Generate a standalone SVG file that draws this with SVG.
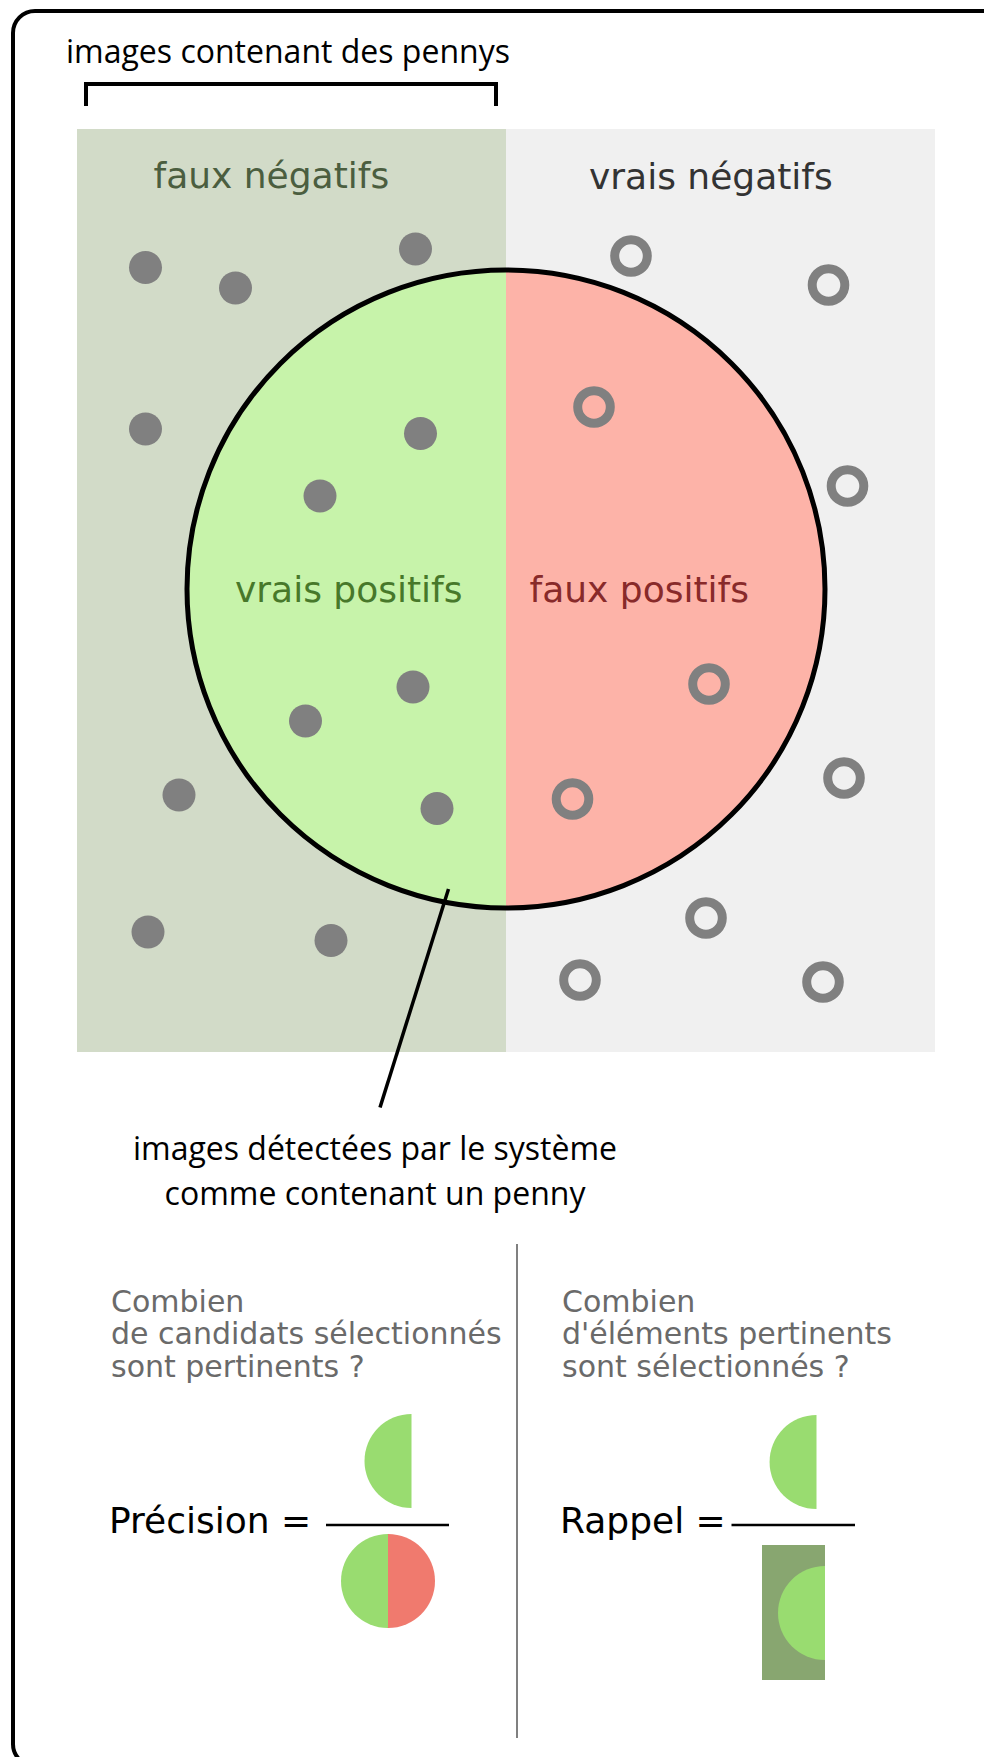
<svg xmlns="http://www.w3.org/2000/svg" width="984" height="1757" viewBox="0 0 984 1757">
  <style>
    .dv { font-family: "DejaVu Sans", Verdana, sans-serif; }
    .os { font-family: "Open Sans", "Liberation Sans", sans-serif; font-size: 32px; fill: #000; }
    .lbl { font-size: 36px; }
    .q { font-size: 30px; fill: #6a6a6a; }
    .eq { font-size: 36px; fill: #000; }
    .dot { fill: #808080; }
    .ring { fill: none; stroke: #808080; stroke-width: 9; }
    .blk { stroke: #000; fill: none; }
  </style>
  <defs>
    <clipPath id="leftHalf"><rect x="0" y="0" width="506" height="1757"/></clipPath>
    <clipPath id="rightHalf"><rect x="506" y="0" width="478" height="1757"/></clipPath>
  </defs>

  <rect x="0" y="0" width="984" height="1757" fill="#fff"/>
  <g id="frame">
    <rect x="13" y="11" width="1000" height="1755" rx="22" ry="22" fill="#fff" stroke="#000" stroke-width="4"/>
  </g>

  <g id="label-pennys">
    <text class="os" x="66" y="63">images contenant des pennys</text>
    <path class="blk" d="M86,106 V84 H496 V106" stroke-width="4"/>
  </g>

  <g id="faux-negatifs">
    <rect x="77" y="129" width="429" height="923" fill="#d2dbc8"/>
    <text class="dv lbl" x="153.5" y="188" fill="#4b5e3f">faux négatifs</text>
  </g>
  <g id="vrais-negatifs">
    <rect x="506" y="129" width="429" height="923" fill="#f0f0f0"/>
    <text class="dv lbl" x="589" y="189" fill="#333333">vrais négatifs</text>
  </g>

  <g id="selection-circle">
    <circle cx="506" cy="589" r="319" fill="#c7f3aa" clip-path="url(#leftHalf)"/>
    <circle cx="506" cy="589" r="319" fill="#fdb3a8" clip-path="url(#rightHalf)"/>
    <circle cx="506" cy="589" r="319" class="blk" stroke-width="5"/>
    <text class="dv lbl" x="235" y="602" fill="#47782a">vrais positifs</text>
    <text class="dv lbl" x="529.5" y="602" fill="#882a2a">faux positifs</text>
  </g>

  <g id="relevant-items">
    <circle class="dot" cx="145.5" cy="267.5" r="16.5"/>
    <circle class="dot" cx="235.5" cy="288" r="16.5"/>
    <circle class="dot" cx="415.5" cy="249" r="16.5"/>
    <circle class="dot" cx="145.5" cy="429" r="16.5"/>
    <circle class="dot" cx="179" cy="795" r="16.5"/>
    <circle class="dot" cx="148" cy="932" r="16.5"/>
    <circle class="dot" cx="331" cy="940.5" r="16.5"/>
    <circle class="dot" cx="420.5" cy="433.5" r="16.5"/>
    <circle class="dot" cx="320" cy="496" r="16.5"/>
    <circle class="dot" cx="413" cy="687" r="16.5"/>
    <circle class="dot" cx="305.5" cy="721" r="16.5"/>
    <circle class="dot" cx="437" cy="808.5" r="16.5"/>
  </g>

  <g id="irrelevant-items">
    <circle class="ring" cx="631" cy="256" r="16.3"/>
    <circle class="ring" cx="828.5" cy="285" r="16.3"/>
    <circle class="ring" cx="847.5" cy="486" r="16.3"/>
    <circle class="ring" cx="844" cy="778" r="16.3"/>
    <circle class="ring" cx="706" cy="918" r="16.3"/>
    <circle class="ring" cx="580" cy="980" r="16.3"/>
    <circle class="ring" cx="823" cy="982" r="16.3"/>
    <circle class="ring" cx="594" cy="407" r="16.3"/>
    <circle class="ring" cx="709" cy="684" r="16.3"/>
    <circle class="ring" cx="572.5" cy="799" r="16.3"/>
  </g>

  <g id="connectors">
    <line x1="448.5" y1="889" x2="380" y2="1107.5" stroke="#000" stroke-width="3.5"/>
  </g>

  <g id="label-detected">
    <text class="os" x="375" y="1160" text-anchor="middle">images détectées par le système</text>
    <text class="os" x="375" y="1205" text-anchor="middle">comme contenant un penny</text>
  </g>

  <g id="divider">
    <line x1="517" y1="1244" x2="517" y2="1738" stroke="#808080" stroke-width="2"/>
  </g>

  <g id="precision">
    <text class="dv q" x="111" y="1311.5">Combien</text>
    <text class="dv q" x="111" y="1344">de candidats sélectionnés</text>
    <text class="dv q" x="111" y="1377">sont pertinents ?</text>
    <text class="dv eq" x="109" y="1533">Précision =</text>
    <line x1="326" y1="1525" x2="449" y2="1525" stroke="#000" stroke-width="2.5"/>
    <path d="M411.5,1414 A47,47 0 0 0 411.5,1508 Z" fill="#99dc70"/>
    <path d="M388,1534 A47,47 0 0 0 388,1628 Z" fill="#99dc70"/>
    <path d="M388,1534 A47,47 0 0 1 388,1628 Z" fill="#f07a6e"/>
  </g>

  <g id="rappel">
    <text class="dv q" x="562" y="1311.5">Combien</text>
    <text class="dv q" x="562" y="1344">d'éléments pertinents</text>
    <text class="dv q" x="562" y="1377">sont sélectionnés ?</text>
    <text class="dv eq" x="560" y="1533">Rappel =</text>
    <line x1="731.5" y1="1525" x2="855" y2="1525" stroke="#000" stroke-width="2.5"/>
    <path d="M816.5,1415 A47,47 0 0 0 816.5,1509 Z" fill="#99dc70"/>
    <rect x="762" y="1545" width="63" height="135" fill="#88a670"/>
    <path d="M825,1566 A47,47 0 0 0 825,1660 Z" fill="#99dc70"/>
  </g>
</svg>
